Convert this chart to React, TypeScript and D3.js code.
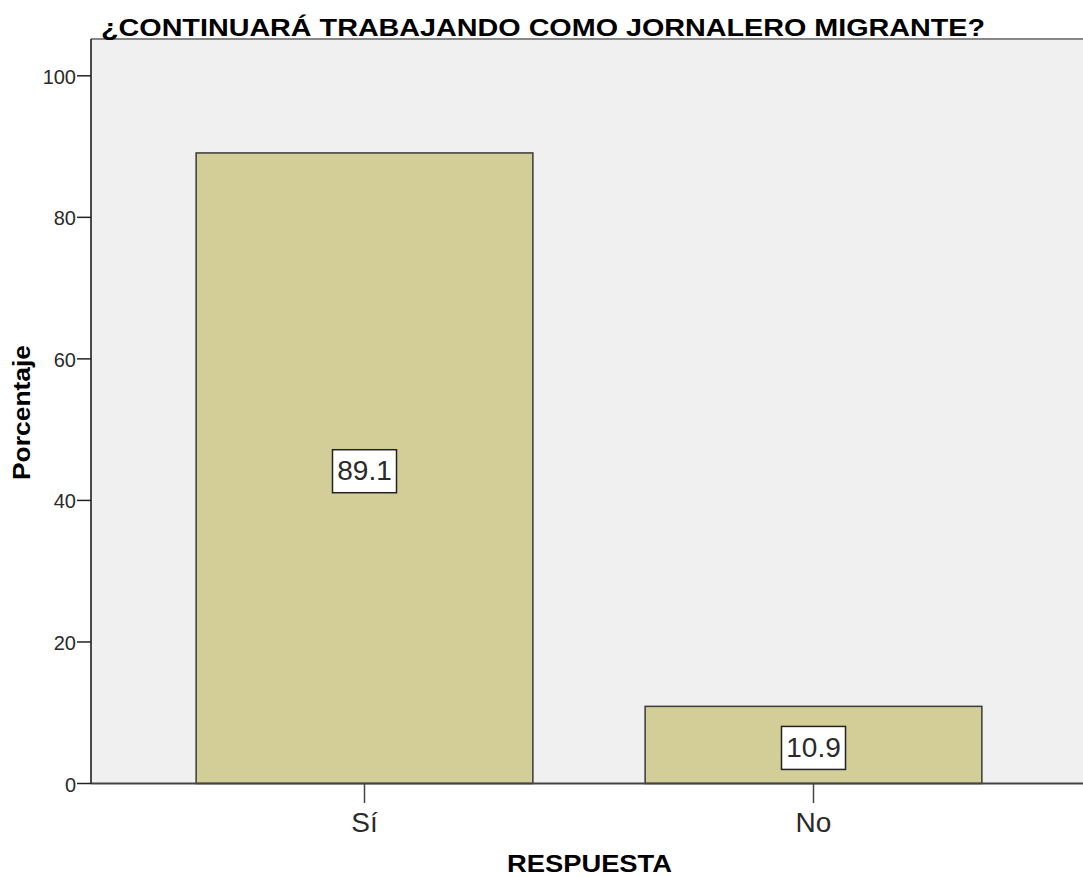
import React from "react";
import * as d3 from "d3";

const categories = ["Sí", "No"];
const values = [89.1, 10.9];
const yTicks = [0, 20, 40, 60, 80, 100];
const title = "¿CONTINUARÁ TRABAJANDO COMO JORNALERO MIGRANTE?";
const xTitle = "RESPUESTA";
const yTitle = "Porcentaje";

export default function App() {
  const W = 1083, H = 877;
  const left = 91, top = 39, right = 1083, bottom = 783.5;
  const x = d3.scaleBand<string>().domain(categories).range([140, 1038]).paddingInner(0.25).paddingOuter(0.125);
  const y = d3.scaleLinear().domain([0, 105.2]).range([bottom, top]);
  const font = "Arial, 'Liberation Sans', sans-serif";
  return (
    <svg width={W} height={H} style={{ position: "absolute", left: 0, top: 0, background: "#fff" }} fontFamily={font}>
      <rect x={left} y={top} width={right - left} height={bottom - top} fill="#f0f0f0" />
      <line x1={left} x2={right} y1={top} y2={top} stroke="#888" strokeWidth={2} />
      <text x={101} y={36} fontSize={23.5} fontWeight="bold" fill="#000" textLength={884} lengthAdjust="spacingAndGlyphs">{title}</text>
      {categories.map((c, i) => {
        const bx = x(c)!;
        const bw = x.bandwidth();
        const yTop = y(values[i]);
        const cy = y(values[i] / 2) + 3;
        const cx = bx + bw / 2;
        return (
          <g key={c}>
            <rect x={bx} y={yTop} width={bw} height={bottom - yTop} fill="#d3ce98" stroke="#3a3a3a" strokeWidth={1.5} />
            <rect x={cx - 32} y={cy - 21.5} width={64} height={43} fill="#fff" stroke="#222" strokeWidth={1.5} />
            <text x={cx} y={cy + 9} textAnchor="middle" fontSize={28} fill="#2a2a2a">{values[i].toFixed(1)}</text>
            <line x1={cx} x2={cx} y1={bottom} y2={bottom + 19.5} stroke="#444" strokeWidth={1.5} />
            <text x={cx} y={bottom + 48.5} textAnchor="middle" fontSize={28} fill="#2a2a2a">{c}</text>
          </g>
        );
      })}
      <line x1={left} x2={right} y1={bottom} y2={bottom} stroke="#444" strokeWidth={2} />
      <line x1={left} x2={left} y1={top} y2={bottom} stroke="#111" strokeWidth={1.5} />
      {yTicks.map((t) => (
        <g key={t}>
          <line x1={left - 14} x2={left} y1={y(t)} y2={y(t)} stroke="#222" strokeWidth={1.5} />
          <text x={left - 15} y={y(t) + 8} textAnchor="end" fontSize={20} fill="#2a2a2a">{t}</text>
        </g>
      ))}
      <text x={589.5} y={872} textAnchor="middle" fontSize={24} fontWeight="bold" fill="#000" textLength={165} lengthAdjust="spacingAndGlyphs">{xTitle}</text>
      <text transform={`translate(30,412.5) rotate(-90)`} textAnchor="middle" fontSize={24} fontWeight="bold" fill="#000" textLength={135} lengthAdjust="spacingAndGlyphs">{yTitle}</text>
    </svg>
  );
}
